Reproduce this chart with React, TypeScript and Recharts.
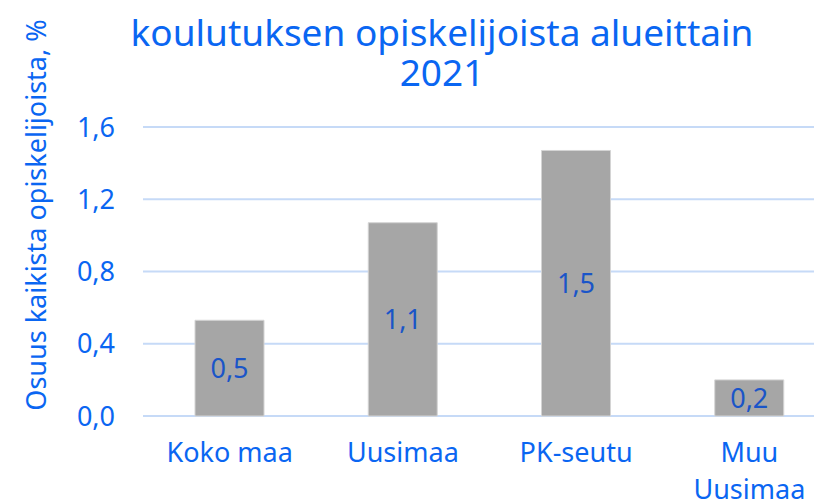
import { BarChart, Bar, XAxis, YAxis, CartesianGrid, LabelList } from "recharts";

const regions = ["Koko maa", "Uusimaa", "PK-seutu", "Muu Uusimaa"];
const shares = [0.53, 1.07, 1.47, 0.2];
const yTicks = [0, 0.4, 0.8, 1.2, 1.6];

const titleLines = ["koulutuksen opiskelijoista alueittain", "2021"];
const yLabel = "Osuus kaikista opiskelijoista, %";

const data = regions.map((name, i) => ({ name, value: shares[i] }));

const BLUE = "#0a66f2";
const LABEL_BLUE = "#1a55c8";
const FONT = "'Noto Sans', sans-serif";

const fmt = (v: number) => v.toFixed(1).replace(".", ",");

const RegionTick = ({ x, y, payload }: any) => {
  const words: string[] = payload.value.length > 9 ? payload.value.split(" ") : [payload.value];
  return (
    <text x={x} y={y} textAnchor="middle" fill={BLUE} fontSize={27} fontFamily={FONT}>
      {words.map((w, i) => (
        <tspan key={i} x={x} dy={i === 0 ? 46 : 37}>
          {w}
        </tspan>
      ))}
    </text>
  );
};

export default function App() {
  return (
    <div
      style={{
        position: "absolute",
        left: 0,
        top: 0,
        width: 814,
        height: 502,
        overflow: "hidden",
        background: "#fff",
        fontFamily: FONT
      }}
    >
      <svg width={814} height={100} style={{ position: "absolute", left: 0, top: 0 }}>
        {titleLines.map((t, i) => (
          <text
            key={t}
            x={442}
            y={46 + i * 40}
            textAnchor="middle"
            fill={BLUE}
            fontSize={37}
            fontFamily={FONT}
          >
            {t}
          </text>
        ))}
      </svg>
      <div
        style={{
          position: "absolute",
          left: 35,
          top: 215,
          transform: "translate(-50%, -50%) rotate(-90deg)",
          whiteSpace: "nowrap",
          color: BLUE,
          fontSize: 27
        }}
      >
        {yLabel}
      </div>
      <BarChart
        width={836}
        height={502}
        data={data}
        margin={{ top: 127, right: 0, bottom: 0, left: 43 }}
        style={{ position: "absolute", left: 0, top: 0 }}
      >
        <CartesianGrid vertical={false} stroke="#c6daf7" strokeWidth={2} />
        <XAxis
          dataKey="name"
          height={86}
          axisLine={false}
          tickLine={false}
          tickSize={0}
          tickMargin={0}
          interval={0}
          tick={<RegionTick />}
        />
        <YAxis
          width={100}
          domain={[0, 1.6]}
          ticks={yTicks}
          tickFormatter={fmt}
          axisLine={false}
          tickLine={false}
          tickSize={0}
          tickMargin={28}
          tick={{ fill: BLUE, fontSize: 27, fontFamily: FONT }}
        />
        <Bar dataKey="value" fill="#a6a6a6" stroke="#d4d4d4" strokeWidth={1} barSize={69} isAnimationActive={false}>
          <LabelList
            dataKey="value"
            position="center"
            formatter={(v: any) => fmt(Number(v))}
            fill={LABEL_BLUE}
            fontSize={27}
            fontFamily={FONT}
          />
        </Bar>
      </BarChart>
    </div>
  );
}
